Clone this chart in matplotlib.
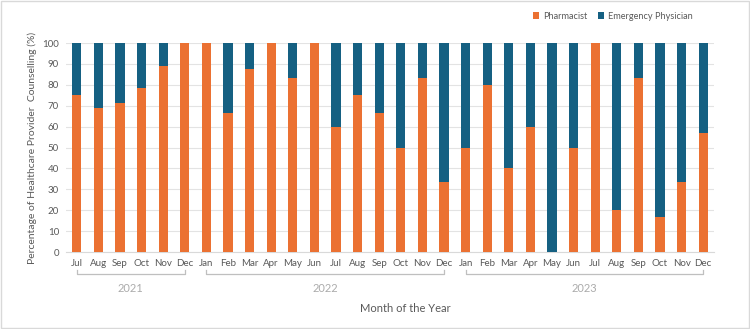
import matplotlib.pyplot as plt
import matplotlib.transforms as mtransforms
from matplotlib.patches import Rectangle
import numpy as np

plt.rcParams['font.family'] = ['Lato', 'DejaVu Sans']

MONTHS = ["Jul", "Aug", "Sep", "Oct", "Nov", "Dec",
          "Jan", "Feb", "Mar", "Apr", "May", "Jun", "Jul", "Aug", "Sep", "Oct", "Nov", "Dec",
          "Jan", "Feb", "Mar", "Apr", "May", "Jun", "Jul", "Aug", "Sep", "Oct", "Nov", "Dec"]
YEARS = ["2021", "2022", "2023"]
# first and last month index of each year
YEAR_SPANS = [(0, 5), (6, 17), (18, 29)]

# percentage of counselling done by pharmacists
pharmacist = [75, 68.75, 71.4, 78.6, 88.9, 100,
              100, 66.7, 87.5, 100, 83.3, 100, 60, 75, 66.7, 50, 83.3, 33.3,
              50, 80, 40, 60, 0, 50, 100, 20, 83.3, 16.7, 33.3, 57.1]
physician = [100 - p for p in pharmacist]

ORANGE = "#EB7132"
BLUE = "#156082"
GREY = "#595959"

fig = plt.figure(figsize=(7.5, 3.29), dpi=100)
ax = fig.add_axes([0.088, 0.234, 0.864, 0.635])

x = np.arange(len(MONTHS))
ax.bar(x, pharmacist, width=0.42, color=ORANGE, label="Pharmacist", zorder=3)
ax.bar(x, physician, bottom=pharmacist, width=0.42, color=BLUE,
       label="Emergency Physician", zorder=3)

ax.set_xlim(-0.5, len(MONTHS) - 0.5)
ax.set_ylim(0, 100)
ax.set_yticks(range(0, 101, 10))
ax.set_xticks(x)
ax.set_xticklabels(MONTHS)
ax.tick_params(axis='both', length=0, labelsize=7, colors=GREY, pad=5)
ax.grid(axis='y', color="#E3E3E3", lw=0.8, zorder=0)
for s in ["top", "right", "left"]:
    ax.spines[s].set_visible(False)
ax.spines["bottom"].set_color("#D9D9D9")

ax.set_ylabel("Percentage of Healthcare Provider  Counselling (%)", fontsize=7.5, color=GREY)

# year brackets under the month labels
trans = mtransforms.blended_transform_factory(ax.transData, ax.transAxes)
for yr, (a, b) in zip(YEARS, YEAR_SPANS):
    ax.plot([a, a, b, b], [-0.085, -0.105, -0.105, -0.085], color="#BFBFBF",
            lw=0.9, transform=trans, clip_on=False)
    ax.text((a + b) / 2, -0.175, yr, transform=trans, ha='center', va='center',
            fontsize=8, color="#ABABAB")

fig.text(0.54, 0.063, "Month of the Year", ha='center', va='center', fontsize=8, color=GREY)

ax.legend(loc='upper right', bbox_to_anchor=(0.98, 1.19), ncol=2, frameon=False,
          fontsize=6.6, handlelength=0.7, handleheight=0.7, handletextpad=0.4,
          columnspacing=1.2, labelcolor=GREY)

fig.patches.append(Rectangle((0.001, 0.002), 0.997, 0.995, transform=fig.transFigure,
                             fill=False, edgecolor="#D9D9D9", lw=1))

fig.savefig("out.png", dpi=100)
